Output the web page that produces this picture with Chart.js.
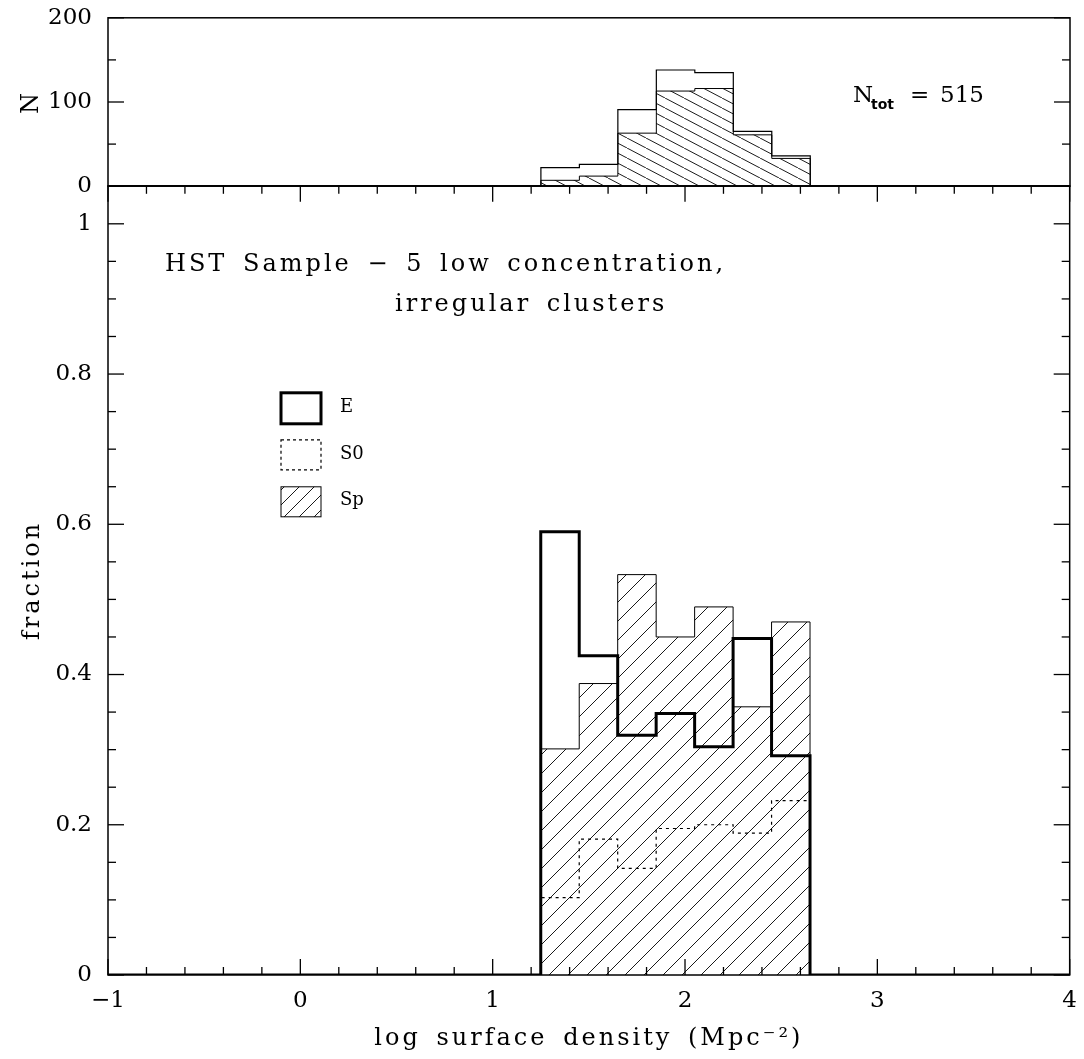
<!DOCTYPE html>
<html>
<head>
<meta charset="utf-8">
<script src="https://cdn.jsdelivr.net/npm/chart.js@4.4.0/dist/chart.umd.min.js"></script>
<style>
  body { margin: 0; background: #fff; width: 1084px; height: 1059px; position: relative; overflow: hidden; }
  canvas { position: absolute; left: 0; top: 0; }
</style>
</head>
<body>
<canvas id="topChart" width="1084" height="200"></canvas>
<canvas id="mainChart" width="1084" height="899"></canvas>
<script>
// data
const binEdges = [1.25, 1.45, 1.65, 1.85, 2.05, 2.25, 2.45, 2.65];
const nTotal = [22, 26, 91, 138, 135, 65, 36];     // top panel, open histogram
const nHatched = [7, 12, 63, 113, 116, 61, 33];    // top panel, hatched part
const fracE = [0.590, 0.425, 0.319, 0.348, 0.304, 0.448, 0.292];
const fracS0 = [0.103, 0.181, 0.142, 0.195, 0.200, 0.189, 0.232];
const fracSp = [0.301, 0.388, 0.533, 0.450, 0.490, 0.357, 0.470];
const xRange = [-1, 4];
const xTicks = [-1, 0, 1, 2, 3, 4];
const xTickLabels = ['−1', '0', '1', '2', '3', '4'];
const fracTicks = [0, 0.2, 0.4, 0.6, 0.8, 1];
const fracTickLabels = ['0', '0.2', '0.4', '0.6', '0.8', '1'];
const nTicks = [0, 100, 200];
const nTickLabels = ['0', '100', '200'];

// where each plot box sits on the page
const topBox = { left: 108, right: 1070, top: 18, bottom: 186 };
const mainBox = { left: 108, right: 1070, top: 186, bottom: 975 };

const FONT = 'DejaVu Serif';
Chart.defaults.font.family = FONT;
Chart.defaults.font.size = 23;
Chart.defaults.color = '#000';

// histogram outline: points at left bin edges, stepped 'before'
function steps(vals) {
  const pts = [{x: xRange[0], y: 0}];
  vals.forEach((v, i) => pts.push({x: binEdges[i], y: v}));
  pts.push({x: binEdges[binEdges.length - 1], y: 0});
  pts.push({x: xRange[1], y: 0});
  return pts;
}

// hatch pattern, dir '/' or '\'
function hatch(w, h, dir) {
  const c = document.createElement('canvas');
  c.width = w; c.height = h;
  const g = c.getContext('2d');
  g.strokeStyle = '#000';
  g.lineWidth = 0.9;
  g.beginPath();
  for (const k of [-1, 0, 1]) {
    if (dir === '/') { g.moveTo(k * w, h); g.lineTo(k * w + w, 0); }
    else { g.moveTo(k * w, 0); g.lineTo(k * w + w, h); }
  }
  g.stroke();
  return g.createPattern(c, 'repeat');
}

function seg(ctx, x1, y1, x2, y2) {
  ctx.beginPath(); ctx.moveTo(x1, y1); ctx.lineTo(x2, y2); ctx.stroke();
}

function range(a, b, step) {
  const out = [];
  for (let v = a; v <= b + 1e-9; v += step) out.push(+v.toFixed(4));
  return out;
}

// wide, loosely spaced text like the plot's stroke font
function wideText(ctx, str, x, y, size, align) {
  ctx.font = size + 'px ' + FONT;
  ctx.letterSpacing = '3px';
  ctx.wordSpacing = '5px';
  ctx.textAlign = align || 'left';
  ctx.fillText(str, x, y);
  ctx.letterSpacing = '0px';
  ctx.wordSpacing = '0px';
  ctx.textAlign = 'left';
}

// frame + inward ticks + axis titles
const frameTicks = {
  id: 'frameTicks',
  afterDraw(chart, args, opts) {
    const {ctx, chartArea: a, scales} = chart;
    ctx.save();
    ctx.strokeStyle = '#000';
    ctx.lineWidth = 1.5;
    ctx.strokeRect(a.left, a.top, a.width, a.height);
    ctx.lineWidth = 1.3;
    const y = scales.y, x = scales.x;
    opts.yMinor.forEach(v => {
      const p = y.getPixelForValue(v);
      const len = opts.yMajor.includes(v) ? 16 : 8;
      seg(ctx, a.left, p, a.left + len, p);
      seg(ctx, a.right, p, a.right - len, p);
    });
    if (opts.xMinor) {
      opts.xMinor.forEach(v => {
        const p = x.getPixelForValue(v);
        const len = xTicks.includes(v) ? 16 : 8;
        seg(ctx, p, a.bottom, p, a.bottom - len);
        seg(ctx, p, a.top, p, a.top + len);
      });
    }
    ctx.fillStyle = '#000';
    ctx.textBaseline = 'middle';
    if (opts.yTitle) {
      ctx.save();
      ctx.translate(a.left - opts.yTitleDx, (a.top + a.bottom) / 2);
      ctx.rotate(-Math.PI / 2);
      wideText(ctx, opts.yTitle, 0, 0, 24, 'center');
      ctx.restore();
    }
    if (opts.xTitle) {
      wideText(ctx, opts.xTitle, (a.left + a.right) / 2, a.bottom + opts.xTitleDy, 24, 'center');
    }
    ctx.restore();
  }
};

// free text, placed relative to the plot box (page offsets from box corner)
const labelsTop = {
  id: 'labelsTop',
  afterDraw(chart) {
    const ctx = chart.ctx, a = chart.chartArea;
    const X = v => a.left + (v - topBox.left), Y = v => a.top + (v - topBox.top);
    ctx.save();
    ctx.fillStyle = '#000';
    ctx.textBaseline = 'alphabetic';
    ctx.font = '23px ' + FONT;
    ctx.fillText('N', X(853), Y(102));
    ctx.font = 'bold 14px DejaVu Sans';
    ctx.fillText('tot', X(871), Y(109));
    ctx.font = '23px ' + FONT;
    ctx.fillText('=', X(910), Y(102));
    ctx.fillText('515', X(940), Y(102));
    ctx.restore();
  }
};

const labelsMain = {
  id: 'labelsMain',
  afterDraw(chart) {
    const ctx = chart.ctx, a = chart.chartArea;
    const X = v => a.left + (v - mainBox.left), Y = v => a.top + (v - mainBox.top);
    ctx.save();
    ctx.fillStyle = '#000';
    ctx.textBaseline = 'alphabetic';
    wideText(ctx, 'HST Sample − 5 low concentration,', X(165), Y(271), 24);
    wideText(ctx, 'irregular clusters', X(395), Y(311), 24);

    // legend
    const bx = X(281), bw = 40;
    ctx.strokeStyle = '#000';
    ctx.lineWidth = 3;
    ctx.strokeRect(bx, Y(393), bw, 31);
    ctx.lineWidth = 1.2;
    ctx.setLineDash([3, 3]);
    ctx.strokeRect(bx, Y(440), bw, 30);
    ctx.setLineDash([]);
    ctx.fillStyle = hatch(15, 15, '/');
    ctx.fillRect(bx, Y(487), bw, 30);
    ctx.lineWidth = 1;
    ctx.strokeRect(bx, Y(487), bw, 30);
    ctx.fillStyle = '#000';
    ctx.font = '18px ' + FONT;
    ctx.textBaseline = 'middle';
    ctx.fillText('E', X(340), Y(408));
    ctx.fillText('S0', X(340), Y(455));
    ctx.fillText('Sp', X(340), Y(501));
    ctx.restore();
  }
};

const common = {
  responsive: false,
  maintainAspectRatio: false,
  devicePixelRatio: 1,
  animation: false,
  events: [],
  elements: { point: { radius: 0 }, line: { tension: 0 } }
};

const noGrid = { display: false, drawTicks: false };

const topConfig = () => ({
  type: 'line',
  data: {
    datasets: [
      { data: steps(nTotal), stepped: 'before', borderColor: '#000', borderWidth: 1.2, fill: false },
      { data: steps(nHatched), stepped: 'before', borderColor: '#000', borderWidth: 1,
        backgroundColor: hatch(19, 10, '\\'), fill: 'origin' }
    ]
  },
  options: {
    ...common,
    layout: { padding: { top: 18, right: 14, left: 0, bottom: 14 } },
    scales: {
      x: { type: 'linear', min: xRange[0], max: xRange[1], display: false },
      y: {
        min: 0, max: 200,
        afterBuildTicks: s => { s.ticks = nTicks.map(v => ({value: v})); },
        afterFit: s => { s.width = 108; },
        ticks: { padding: 16, callback: v => nTickLabels[nTicks.indexOf(v)] },
        grid: noGrid, border: { display: false }
      }
    },
    plugins: {
      legend: { display: false }, tooltip: { enabled: false },
      frameTicks: { yMajor: nTicks, yMinor: range(0, 200, 50), yTitle: 'N', yTitleDx: 76 }
    }
  },
  plugins: [frameTicks, labelsTop]
});

const mainConfig = () => ({
  type: 'line',
  data: {
    datasets: [
      { label: 'E', data: steps(fracE), stepped: 'before', borderColor: '#000', borderWidth: 3, fill: false },
      { label: 'S0', data: steps(fracS0), stepped: 'before', borderColor: '#000', borderWidth: 1.2,
        borderDash: [3, 4], fill: false },
      { label: 'Sp', data: steps(fracSp), stepped: 'before', borderColor: '#000', borderWidth: 1,
        backgroundColor: hatch(19, 19, '/'), fill: 'origin' }
    ]
  },
  options: {
    ...common,
    layout: { padding: { top: 26, right: 14, left: 0, bottom: 0 } },
    scales: {
      x: {
        type: 'linear', min: xRange[0], max: xRange[1],
        afterBuildTicks: s => { s.ticks = xTicks.map(v => ({value: v})); },
        afterFit: s => { s.height = 84; },
        ticks: { padding: 12, maxRotation: 0, autoSkip: false,
          callback: v => xTickLabels[xTicks.indexOf(v)] },
        grid: noGrid, border: { display: false }
      },
      y: {
        min: 0, max: 1.0506,
        afterBuildTicks: s => { s.ticks = fracTicks.map(v => ({value: v})); },
        afterFit: s => { s.width = 108; },
        ticks: { padding: 16, callback: v => fracTickLabels[fracTicks.indexOf(v)] },
        grid: noGrid, border: { display: false }
      }
    },
    plugins: {
      legend: { display: false }, tooltip: { enabled: false },
      frameTicks: {
        yMajor: fracTicks, yMinor: range(0, 1.05, 0.05), xMinor: range(-1, 4, 0.2),
        yTitle: 'fraction', yTitleDx: 75,
        xTitle: 'log surface density (Mpc⁻²)', xTitleDy: 64
      }
    }
  },
  plugins: [frameTicks, labelsMain]
});

// build a chart, then size/place its canvas so the plot box lands on `box`
function placeChart(id, makeConfig, box) {
  const canvas = document.getElementById(id);
  let chart = new Chart(canvas, makeConfig());
  for (let i = 0; i < 4; i++) {
    const a = chart.chartArea;
    const W = chart.width, H = chart.height;
    const newW = Math.round(a.left + (box.right - box.left) + (W - a.right));
    const newH = Math.round(a.top + (box.bottom - box.top) + (H - a.bottom));
    canvas.style.left = (box.left - a.left) + 'px';
    canvas.style.top = (box.top - a.top) + 'px';
    if (newW === W && newH === H) break;
    chart.destroy();
    canvas.width = newW;
    canvas.height = newH;
    canvas.style.width = newW + 'px';
    canvas.style.height = newH + 'px';
    chart = new Chart(canvas, makeConfig());
  }
  return chart;
}

placeChart('mainChart', mainConfig, mainBox);
placeChart('topChart', topConfig, topBox);
</script>
</body>
</html>
